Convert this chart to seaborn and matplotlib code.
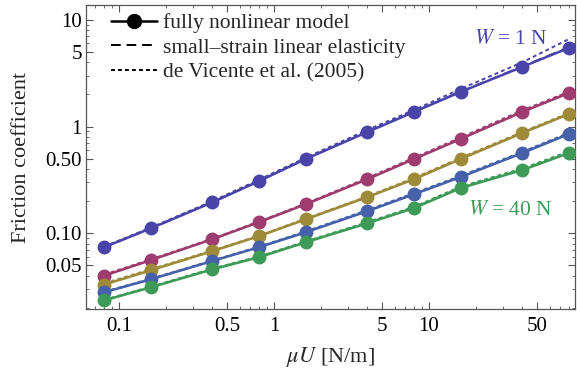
import numpy as np
import pandas as pd
import matplotlib
matplotlib.use("Agg")
import matplotlib.pyplot as plt
from matplotlib.lines import Line2D
from matplotlib.ticker import FixedLocator, FixedFormatter, LogLocator, NullFormatter
import seaborn as sns

# ── DATA ──
MU_U   = [0.08, 0.16, 0.4, 0.8, 1.6, 4, 8, 16, 40, 80]
LOADS  = ["1 N", "5 N", "10 N", "20 N", "40 N"]   # only 1 N / 40 N are labelled
COLORS = ["#4a44a8", "#9e3b6f", "#9d8b3a", "#4661a9", "#3d9b57"]

# fully nonlinear model (solid + dots)
nonlin_1  = [0.074, 0.111, 0.195, 0.308, 0.496, 0.888, 1.37, 2.11, 3.62, 5.46]
nonlin_5  = [0.040, 0.056, 0.088, 0.127, 0.187, 0.321, 0.496, 0.764, 1.37, 2.06]
nonlin_10 = [0.033, 0.045, 0.068, 0.094, 0.135, 0.218, 0.321, 0.496, 0.869, 1.31]
nonlin_20 = [0.028, 0.037, 0.055, 0.074, 0.102, 0.161, 0.232, 0.336, 0.564, 0.851]
nonlin_40 = [0.0235, 0.0311, 0.0459, 0.0596, 0.0823, 0.124, 0.172, 0.265, 0.391, 0.564]

# small-strain linear elasticity (dashed) - sits right under the solid curves
linear_1  = [0.074, 0.111, 0.196, 0.309, 0.498, 0.892, 1.38, 2.13, 3.66, 5.55]
linear_5  = [0.040, 0.056, 0.088, 0.128, 0.188, 0.323, 0.499, 0.770, 1.38, 2.08]
linear_10 = [0.033, 0.045, 0.068, 0.094, 0.136, 0.219, 0.323, 0.500, 0.876, 1.32]
linear_20 = [0.028, 0.037, 0.055, 0.074, 0.103, 0.162, 0.234, 0.339, 0.569, 0.858]
linear_40 = [0.0235, 0.0312, 0.0461, 0.0599, 0.0828, 0.125, 0.174, 0.268, 0.395, 0.570]

# de Vicente et al. (2005) (dotted)
vic_1  = [0.075, 0.113, 0.200, 0.318, 0.51, 0.93, 1.43, 2.25, 4.0, 6.6]
vic_5  = [0.041, 0.057, 0.089, 0.129, 0.190, 0.330, 0.51, 0.79, 1.42, 2.12]
vic_10 = [0.034, 0.046, 0.069, 0.095, 0.137, 0.222, 0.330, 0.51, 0.89, 1.34]
vic_20 = [0.0283, 0.0375, 0.0555, 0.075, 0.104, 0.165, 0.238, 0.345, 0.58, 0.875]
vic_40 = [0.0238, 0.0316, 0.0467, 0.0607, 0.084, 0.127, 0.177, 0.274, 0.405, 0.585]

def long_df(series):
    rows = []
    for load, vals in zip(LOADS, series):
        for x, y in zip(MU_U, vals):
            rows.append({"muU": x, "f": y, "W": load})
    return pd.DataFrame(rows)

df_nonlin = long_df([nonlin_1, nonlin_5, nonlin_10, nonlin_20, nonlin_40])
df_linear = long_df([linear_1, linear_5, linear_10, linear_20, linear_40])
df_vic    = long_df([vic_1, vic_5, vic_10, vic_20, vic_40])
palette   = dict(zip(LOADS, COLORS))

# ── STYLE ──
sns.set_theme(style="ticks")
plt.rcParams["font.family"] = ["Liberation Serif", "DejaVu Serif"]
plt.rcParams["mathtext.fontset"] = "stix"
FRAME = "#555555"
DASH  = (0, (5, 3))
DOT   = (0, (2, 1.6))

fig = plt.figure(figsize=(5.77, 3.76), dpi=100)
ax = fig.add_axes([0.149, 0.178, 0.848, 0.809])

sns.lineplot(data=df_vic, x="muU", y="f", hue="W", palette=palette,
             linestyle=DOT, linewidth=1.4, legend=False, ax=ax, zorder=2)
sns.lineplot(data=df_linear, x="muU", y="f", hue="W", palette=palette,
             linestyle=DASH, linewidth=1.4, legend=False, ax=ax, zorder=3)
sns.lineplot(data=df_nonlin, x="muU", y="f", hue="W", palette=palette,
             marker="o", markersize=10, markeredgewidth=0, linewidth=1.8,
             legend=False, ax=ax, zorder=4)

ax.set_xscale("log")
ax.set_yscale("log")
ax.set_xlim(0.0612, 87.9)
ax.set_ylim(0.0195, 13.8)

# ticks, Mathematica-like frame
xt = [0.1, 0.5, 1, 5, 10, 50]
yt = [0.05, 0.1, 0.5, 1, 5, 10]
ax.xaxis.set_major_locator(FixedLocator(xt))
ax.xaxis.set_major_formatter(FixedFormatter(["0.1", "0.5", "1", "5", "10", "50"]))
ax.yaxis.set_major_locator(FixedLocator(yt))
ax.yaxis.set_major_formatter(FixedFormatter(["0.05", "0.10", "0.50", "1", "5", "10"]))
for axis in (ax.xaxis, ax.yaxis):
    axis.set_minor_locator(LogLocator(base=10, subs=np.arange(2, 10)))
    axis.set_minor_formatter(NullFormatter())
ax.tick_params(which="both", direction="in", top=True, right=True,
               color=FRAME, labelsize=15, labelcolor="black")
ax.tick_params(axis="x", pad=6)
ax.tick_params(axis="y", pad=3)
ax.tick_params(which="major", length=5, width=0.8)
ax.tick_params(which="minor", length=2.5, width=0.6)
for s in ax.spines.values():
    s.set_color(FRAME)
    s.set_linewidth(0.9)

ax.set_xlabel(r"$\mu U$ [N/m]", fontsize=16, labelpad=6)
ax.set_ylabel("Friction coefficient", fontsize=16, labelpad=10)

# curve labels
ax.text(0.868, 0.887, r"$W$ = 1 N", transform=ax.transAxes, color=COLORS[0],
        fontsize=15.5, ha="center", va="center")
ax.text(0.868, 0.325, r"$W$ = 40 N", transform=ax.transAxes, color=COLORS[4],
        fontsize=15.5, ha="center", va="center")

handles = [
    Line2D([], [], color="black", linewidth=1.8, marker="o", markersize=10),
    Line2D([], [], color="black", linewidth=1.4, linestyle=DASH),
    Line2D([], [], color="black", linewidth=1.4, linestyle=DOT),
]
labels = ["fully nonlinear model", "small\u2013strain linear elasticity",
          "de Vicente et al. (2005)"]
ax.legend(handles, labels, loc="upper left", frameon=False, fontsize=15.5,
          handlelength=2.1, handletextpad=0.3, labelspacing=0.2,
          borderaxespad=0, borderpad=0, bbox_to_anchor=(0.052, 0.972))

fig.savefig("out.png", dpi=100)
